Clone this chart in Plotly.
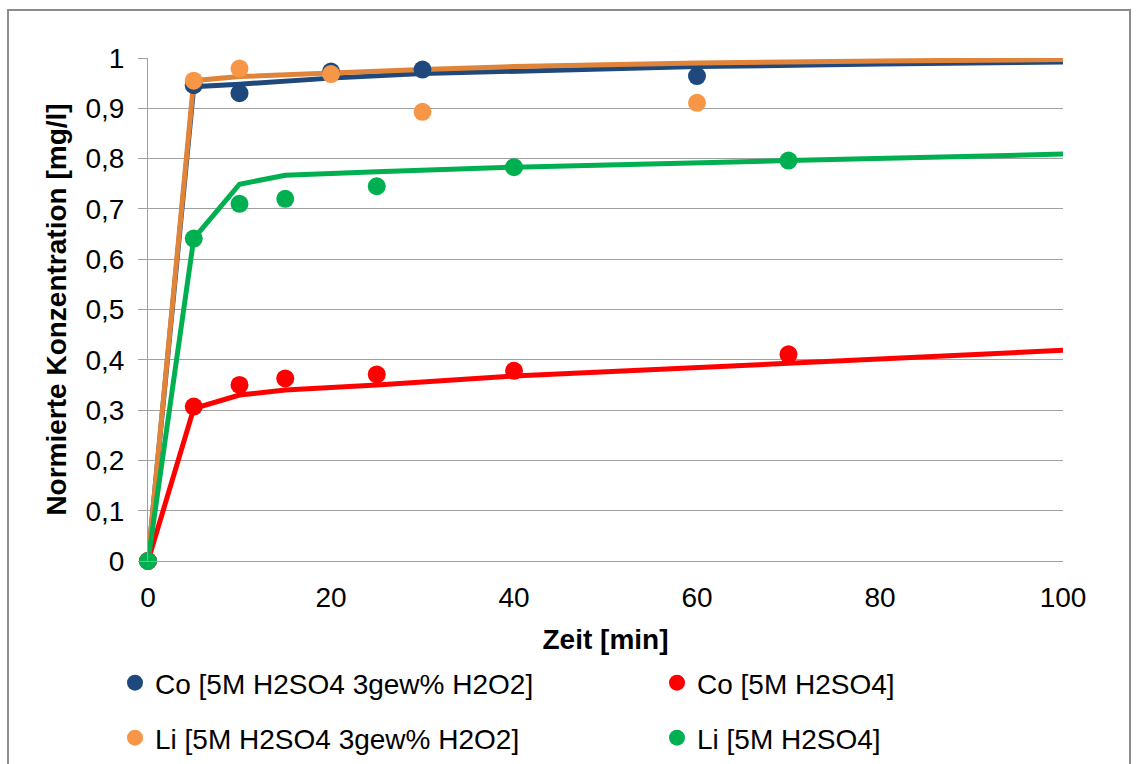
import plotly.graph_objects as go

# ---- data ----
t_h2o2 = [0, 5, 10, 20, 30, 60]
co_h2o2 = [0, 0.946, 0.930, 0.973, 0.977, 0.964]
li_h2o2 = [0, 0.955, 0.979, 0.968, 0.893, 0.911]

t_h2so4 = [0, 5, 10, 15, 25, 40, 70]
co_h2so4 = [0, 0.307, 0.350, 0.363, 0.371, 0.378, 0.411]
li_h2so4 = [0, 0.641, 0.710, 0.720, 0.745, 0.783, 0.796]

fit_t_h2o2 = [0, 5, 10, 20, 30, 40, 60, 80, 100]
fit_co_h2o2 = [0, 0.943, 0.948, 0.960, 0.969, 0.974, 0.983, 0.988, 0.992]
fit_li_h2o2 = [0, 0.955, 0.963, 0.971, 0.977, 0.983, 0.990, 0.994, 0.997]

fit_t_h2so4 = [0, 5, 10, 15, 25, 40, 70, 100]
fit_co_h2so4 = [0, 0.303, 0.330, 0.340, 0.350, 0.368, 0.393, 0.419]
fit_li_h2so4 = [0, 0.641, 0.749, 0.767, 0.774, 0.783, 0.796, 0.809]

names = ["Co [5M H2SO4 3gew% H2O2]", "Co [5M H2SO4]",
         "Li [5M H2SO4 3gew% H2O2]", "Li [5M H2SO4]"]

y_ticks = [0, 0.1, 0.2, 0.3, 0.4, 0.5, 0.6, 0.7, 0.8, 0.9, 1]
y_ticktext = ["0", "0,1", "0,2", "0,3", "0,4", "0,5", "0,6", "0,7", "0,8", "0,9", "1"]
x_ticks = [0, 20, 40, 60, 80, 100]

BLUE_M, BLUE_L = "#1F497D", "#1F497D"
ORANGE_M, ORANGE_L = "#F79646", "#E0843A"
RED = "#FF0000"
GREEN = "#00B050"
FONT = "Liberation Sans, Arial, sans-serif"

fig = go.Figure()

# fitted lines
for t, y, c in [(fit_t_h2o2, fit_co_h2o2, BLUE_L),
                (fit_t_h2o2, fit_li_h2o2, ORANGE_L),
                (fit_t_h2so4, fit_co_h2so4, RED),
                (fit_t_h2so4, fit_li_h2so4, GREEN)]:
    fig.add_trace(go.Scatter(x=t, y=y, mode="lines", line=dict(color=c, width=5),
                             showlegend=False, hoverinfo="skip", cliponaxis=False))

# measured points (one legend per entry so they can be placed like the reference)
for t, y, c, n, lg in [(t_h2o2, co_h2o2, BLUE_M, names[0], "legend"),
                       (t_h2o2, li_h2o2, ORANGE_M, names[2], "legend3"),
                       (t_h2so4, co_h2so4, RED, names[1], "legend2"),
                       (t_h2so4, li_h2so4, GREEN, names[3], "legend4")]:
    fig.add_trace(go.Scatter(x=t, y=y, mode="markers", name=n, legend=lg,
                             marker=dict(color=c, size=18), cliponaxis=False))

L, R, T, B = 148, 73, 58, 203
W, H = 1136, 764
pw, ph = W - L - R, H - T - B

def px_x(p):
    return (p - L) / pw

def px_y(p):
    return (H - B - p) / ph

leg_common = dict(font=dict(family=FONT, size=28, color="black"),
                  bgcolor="rgba(0,0,0,0)", xanchor="left", yanchor="middle",
                  itemwidth=30, orientation="h")

fig.update_layout(
    width=W, height=H,
    margin=dict(l=L, r=R, t=T, b=B, autoexpand=False),
    paper_bgcolor="white", plot_bgcolor="white",
    font=dict(family=FONT, size=28, color="black"),
    legend=dict(x=px_x(115), y=px_y(683), **leg_common),
    legend2=dict(x=px_x(657), y=px_y(683), **leg_common),
    legend3=dict(x=px_x(115), y=px_y(738), **leg_common),
    legend4=dict(x=px_x(657), y=px_y(738), **leg_common),
    xaxis=dict(range=[0, 100], tickvals=x_ticks, showgrid=False, zeroline=False,
               showline=True, linecolor="#A0A0A0", linewidth=1,
               ticks="", ticklabelstandoff=11, automargin=False,
               tickfont=dict(family=FONT, size=28, color="black"),
               title=dict(text="Zeit [min]", standoff=17,
                          font=dict(family=FONT, size=28, color="black", weight="bold"))),
    yaxis=dict(range=[0, 1], tickvals=y_ticks, ticktext=y_ticktext,
               showgrid=True, gridcolor="#A0A0A0", gridwidth=1, zeroline=False,
               showline=True, linecolor="#A0A0A0", linewidth=1,
               ticks="outside", ticklen=9, tickcolor="#A0A0A0",
               ticklabelstandoff=8, automargin=False,
               tickfont=dict(family=FONT, size=28, color="black"),
               title=dict(text="Normierte Konzentration [mg/l]", standoff=10,
                          font=dict(family=FONT, size=28, color="black", weight="bold"))),
    shapes=[dict(type="rect", xref="paper", yref="paper",
                 x0=px_x(8), x1=px_x(1130), y0=px_y(800), y1=px_y(10),
                 line=dict(color="#8C8C8C", width=2), fillcolor="rgba(0,0,0,0)",
                 layer="below")],
)

fig.write_html("out.html", config={"displayModeBar": False},
               post_script="document.body.style.margin='0';document.body.style.overflow='hidden';")
